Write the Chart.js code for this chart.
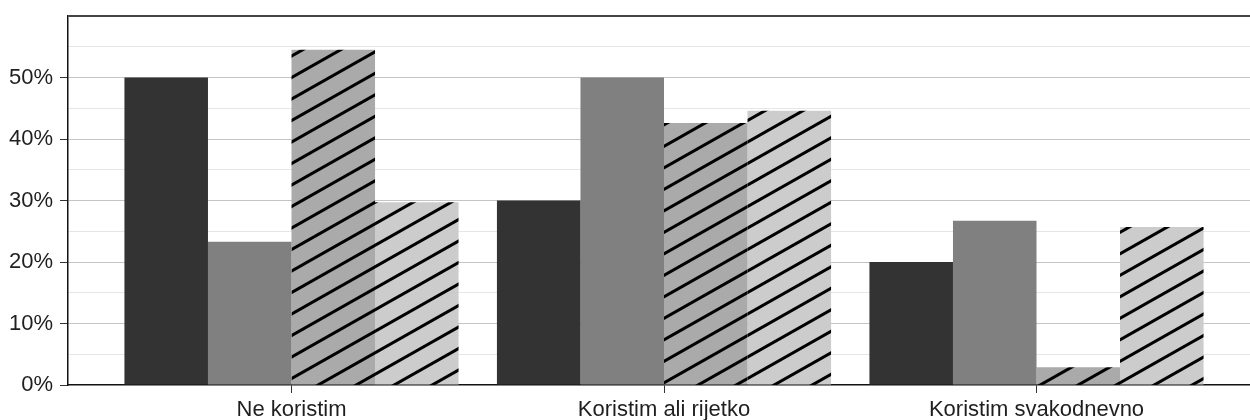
<!DOCTYPE html>
<html>
<head>
<meta charset="utf-8">
<script src="https://cdn.jsdelivr.net/npm/chart.js@4"></script>
<style>
    html, body { margin: 0; padding: 0; background: #fff; overflow: hidden; }
    #wrap { width: 1260px; height: 420px; }
</style>
</head>
<body>
<div id="wrap"><canvas id="grafico-uso" width="1260" height="420"></canvas></div>
<script>
var kategorije = ['Ne koristim', 'Koristim ali rijetko', 'Koristim svakodnevno'];
var serija1 = [50.0, 30.0, 20.0];
var serija2 = [23.3, 50.0, 26.7];
var serija3 = [54.5, 42.6, 2.9];
var serija4 = [29.7, 44.6, 25.7];
var yTickovi = [0, 5, 10, 15, 20, 25, 30, 35, 40, 45, 50, 55, 60];

var ctxUso = document.getElementById('grafico-uso').getContext('2d');

// šrafura: kose crte, uzorak vezan za platno pa se nastavlja preko stupaca
function createHatch(ctx, boja) {
    var w = 76, h = 43;
    var c = document.createElement('canvas');
    c.width = w;
    c.height = h;
    var p = c.getContext('2d');
    p.fillStyle = boja;
    p.fillRect(0, 0, w, h);
    p.strokeStyle = '#000';
    p.lineWidth = 3;
    for (var n = -3; n <= 3; n++) {
        p.beginPath();
        p.moveTo(-w, h + n * h / 2 + h);
        p.lineTo(2 * w, n * h / 2 - h);
        p.stroke();
    }
    var pattern = ctx.createPattern(c, 'repeat');
    pattern.setTransform(new DOMMatrix().translate(0, 6));
    return pattern;
}

function toPoints(vrijednosti) {
    return vrijednosti.map(function(v, i) { return { x: i, y: v }; });
}

var dataUso = {
    datasets: [
        { data: toPoints(serija1), backgroundColor: '#333333' },
        { data: toPoints(serija2), backgroundColor: '#808080' },
        { data: toPoints(serija3), backgroundColor: createHatch(ctxUso, '#aaaaaa') },
        { data: toPoints(serija4), backgroundColor: createHatch(ctxUso, '#cccccc') }
    ]
};

var fontOsi = { family: "'Liberation Sans', Arial, sans-serif", size: 22 };

var optionsUso = {
    responsive: false,
    animation: false,
    devicePixelRatio: 1,
    layout: { padding: { top: 16, left: 0, right: 0, bottom: 0 } },
    datasets: {
        bar: {
            categoryPercentage: 0.897,
            barPercentage: 1,
            borderWidth: 0
        }
    },
    scales: {
        x: {
            type: 'linear',
            offset: false,
            min: -0.6,
            max: 2.6,
            afterBuildTicks: function(scale) {
                scale.ticks = kategorije.map(function(k, i) { return { value: i }; });
            },
            afterFit: function(scale) { scale.height = 35; },
            ticks: {
                autoSkip: false,
                maxRotation: 0,
                padding: 4,
                color: '#1f1f1f',
                font: fontOsi,
                callback: function(v) { return kategorije[v]; }
            },
            grid: {
                display: true,
                offset: false,
                drawOnChartArea: false,
                drawTicks: true,
                tickLength: 8,
                tickColor: '#333'
            },
            border: { display: true, color: '#111', width: 1.5 }
        },
        y: {
            min: 0,
            max: 60,
            afterBuildTicks: function(scale) {
                scale.ticks = yTickovi.map(function(v) { return { value: v }; });
            },
            afterFit: function(scale) {
                scale.width = 68;
                scale.paddingTop = 0;
                scale.paddingBottom = 0;
            },
            ticks: {
                padding: 7,
                color: '#1f1f1f',
                font: fontOsi,
                callback: function(v) {
                    return (v % 10 === 0 && v <= 50) ? v + '%' : '';
                }
            },
            grid: {
                drawTicks: true,
                tickLength: 8,
                color: function(c) {
                    var v = c.tick.value;
                    if (v === 0) return 'rgba(0,0,0,0)';
                    if (v === 60) return '#444';
                    return v % 10 === 0 ? '#c4c4c4' : '#e6e6e6';
                },
                lineWidth: function(c) { return c.tick.value === 60 ? 2 : 1; },
                tickColor: function(c) {
                    var v = c.tick.value;
                    return (v % 10 === 0 && v <= 50) ? '#333' : 'rgba(0,0,0,0)';
                }
            },
            border: { display: true, color: '#111', width: 1.5 }
        }
    },
    plugins: {
        legend: { display: false },
        tooltip: { enabled: false }
    }
};

var graficoUso = new Chart(ctxUso, {
    type: 'bar',
    data: dataUso,
    options: optionsUso
});
</script>
</body>
</html>
